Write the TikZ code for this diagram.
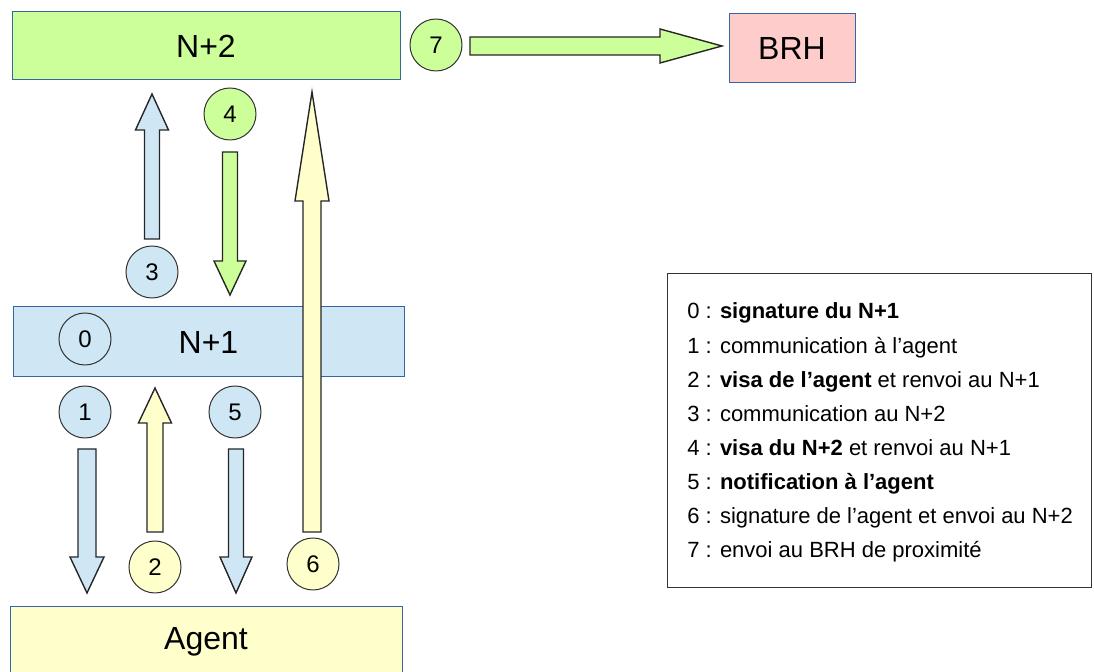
\documentclass[tikz,border=0pt]{standalone}
\usepackage{fontspec}
\setmainfont{Liberation Sans}
\usepackage{tikz}

\definecolor{boxline}{HTML}{3465A4}
\definecolor{greenfill}{HTML}{CCFF99}
\definecolor{bluefill}{HTML}{CFE7F5}
\definecolor{yellowfill}{HTML}{FFFFCC}
\definecolor{pinkfill}{HTML}{FFCCCC}

% vertical block arrow: style, x, tail y, head base y, tip y, half shaft, half head
\newcommand{\blockarrow}[7]{%
  \draw[#1] (#2-#6,#3) -- (#2-#6,#4) -- (#2-#7,#4) -- (#2,#5)
    -- (#2+#7,#4) -- (#2+#6,#4) -- (#2+#6,#3) -- cycle;}

\tikzset{
  level/.style={draw=boxline, line width=0.5pt, font=\fontsize{16}{18}\selectfont},
  step num/.style={circle, draw=black!80, line width=0.5pt, minimum size=26pt,
    inner sep=0pt, font=\fontsize{12}{14}\selectfont},
  fat/.style={draw=black!85, line width=0.7pt, line join=miter}
}

\begin{document}
\begin{tikzpicture}[x=0.5pt, y=-0.5pt]
    \useasboundingbox (0,0) rectangle (1094,672);

    % levels
    \node[level, fill=greenfill, minimum width=194pt, minimum height=34pt] (n2) at (206,46) {N+2};
    \node[level, fill=bluefill, minimum width=195.5pt, minimum height=35pt] (n1) at (208.5,342) {N+1};
    \node[level, fill=yellowfill, minimum width=196pt, minimum height=35pt] (agent) at (206,642) {Agent};
    \node[level, fill=pinkfill, minimum width=63pt, minimum height=34.5pt] (brh) at (792,48.5) {BRH};

    % arrows between N+1 and N+2
    \blockarrow{fat, fill=bluefill}{152}{239}{130}{94}{7.5}{16.5}
    \blockarrow{fat, fill=greenfill}{230}{152}{261}{295}{7.5}{16}
    % arrows between agent and N+1
    \blockarrow{fat, fill=bluefill}{87}{449}{557}{593}{9}{17}
    \blockarrow{fat, fill=yellowfill}{155}{532}{423}{388}{8}{16.5}
    \blockarrow{fat, fill=bluefill}{236}{449}{557}{593}{7.5}{16}
    % agent straight to N+2
    \blockarrow{fat, fill=yellowfill}{312}{532}{201}{92}{9}{17}
    % N+2 to BRH
    \draw[fat, fill=greenfill] (470,37) -- (660,37) -- (660,29) -- (722,46)
        -- (660,63) -- (660,55) -- (470,55) -- cycle;

    % step numbers
    \node[step num] (s0) at (85,339) {0};
    \node[step num, fill=bluefill] (s1) at (85,412) {1};
    \node[step num, fill=yellowfill] (s2) at (155,567) {2};
    \node[step num, fill=bluefill] (s3) at (152,272) {3};
    \node[step num, fill=greenfill] (s4) at (230,114) {4};
    \node[step num, fill=bluefill] (s5) at (235,412) {5};
    \node[step num, fill=yellowfill] (s6) at (313,564) {6};
    \node[step num, fill=greenfill] (s7) at (436,45) {7};

    % legend
    \node[draw=black!80, line width=0.5pt, minimum width=212pt, minimum height=157pt] (legend) at (879,431) {};
    \foreach \i/\txt in {0/{\textbf{signature du N+1}},
        1/{communication à l'agent},
        2/{\textbf{visa de l'agent} et renvoi au N+1},
        3/{communication au N+2},
        4/{\textbf{visa du N+2} et renvoi au N+1},
        5/{\textbf{notification à l'agent}},
        6/{signature de l'agent et envoi au N+2},
        7/{envoi au BRH de proximité}}
        \node[anchor=base west, inner sep=0pt, font=\fontsize{11}{13}\selectfont]
            (l\i) at (687,{319+34.1*\i}) {\i{} : \txt};
\end{tikzpicture}
\end{document}
